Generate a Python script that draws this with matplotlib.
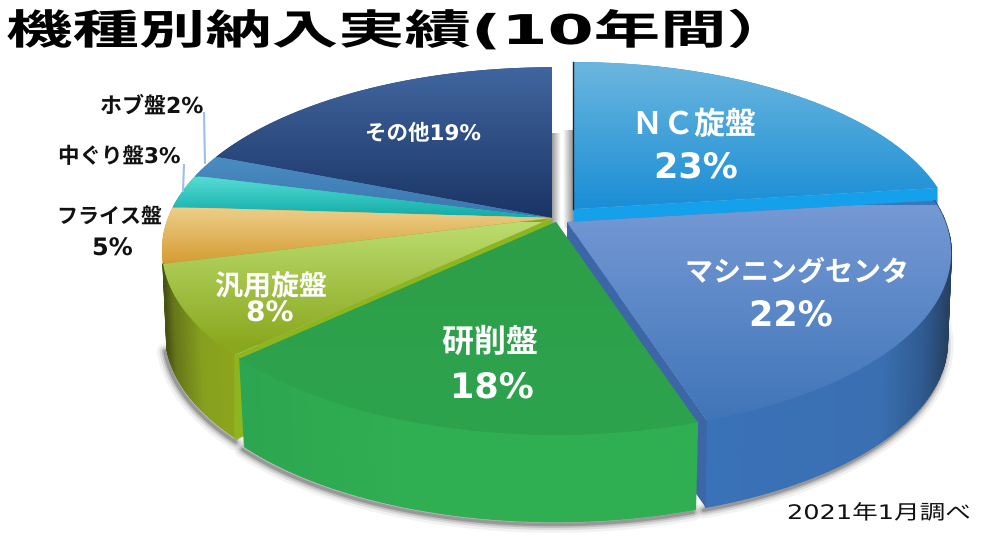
import numpy as np
import matplotlib
matplotlib.use('Agg')
import matplotlib.pyplot as plt
import matplotlib.patheffects as pe
from matplotlib.collections import PolyCollection
from matplotlib.colors import LinearSegmentedColormap, to_rgb
from matplotlib.patches import Polygon
from matplotlib.transforms import Affine2D

plt.rcParams['font.family'] = ['DejaVu Sans', 'Noto Sans CJK JP']

# data, clockwise from 12 o'clock
names = ['NC旋盤', 'マシニングセンタ', '研削盤', '汎用旋盤', 'フライス盤', '中ぐり盤', 'ホブ盤', 'その他']
values = [23, 22, 18, 8, 5, 3, 2, 19]

title = '機種別納入実績(10年間）'
note = '2021年1月調べ'

# perspective of the disc, in pixels
A, B, K = 390.0, 179.5, 0.173
DEPTH = 89

edges = np.cumsum([0] + values) * 3.6


class Stretch(pe.AbstractPathEffect):
    # the reference text is wider than the font
    def __init__(self, sx):
        super().__init__()
        self.sx = sx

    def draw_path(self, renderer, gc, tpath, affine, rgbFace=None):
        renderer.draw_path(gc, tpath, Affine2D().scale(self.sx, 1) + affine, rgbFace)


fig = plt.figure(figsize=(10, 5.52), dpi=100)
ax = fig.add_axes([0, 0, 1, 1])
ax.set_xlim(0, 1000)
ax.set_ylim(552, 0)
ax.axis('off')
ax.autoscale(False)


def arc(i, cx, cy, s, dy=0, bs=1.0, n=80):
    t = np.radians(np.linspace(edges[i], edges[i + 1], n))
    X, Y = np.sin(t), np.cos(t)
    w = 1 + K * Y
    return np.column_stack([cx + s * bs * A * X / w, cy - s * bs * B * Y / w + dy])


def grad_top(xy, c1, c2, z, y0=None, y1=None):
    patch = Polygon(xy, closed=True, fc=c2, ec='none', zorder=z)
    ax.add_patch(patch)
    x0, x1 = xy[:, 0].min(), xy[:, 0].max()
    y0 = xy[:, 1].min() if y0 is None else y0
    y1 = xy[:, 1].max() if y1 is None else y1
    cm = LinearSegmentedColormap.from_list('g', [c1, c2])
    im = ax.imshow(np.linspace(0, 1, 256)[:, None], cmap=cm, aspect='auto', zorder=z,
                   extent=(x0, x1, y1, y0), interpolation='bilinear')
    im.set_clip_path(patch)


def side(top, bottom, stops, z):
    # small quads along the rim so the shading can follow x
    xs = [p for p, _ in stops]
    rgb = np.array([to_rgb(c) for _, c in stops])
    quads, cols = [], []
    for k in range(len(top) - 1):
        quads.append([top[k], top[k + 1], bottom[k + 1], bottom[k]])
        u = (top[k, 0] + top[k + 1, 0]) / 2
        cols.append([np.interp(u, xs, rgb[:, j]) for j in range(3)])
    ax.add_collection(PolyCollection(quads, facecolors=cols, edgecolors=cols, linewidths=1.2, zorder=z))


def shadow(curve):
    for lw, a in [(12, 0.05), (8, 0.09), (5, 0.13), (2.5, 0.2)]:
        ax.plot(curve[:, 0] - 2, curve[:, 1] + 3, color='black', lw=lw, alpha=a, zorder=1,
                solid_capstyle='round')


# centre and scale of each wedge
nc = (574, 209, 0.96)
mc = (567, 222, 0.97)
gr = (556, 222, 0.98)
rest = (552, 218, 0.985)

# soft shadow in the gap behind the pulled out wedge
gap1 = LinearSegmentedColormap.from_list('g1', ['#9a9a9a', '#ffffff'])
gap2 = LinearSegmentedColormap.from_list('g2', ['#ffffff', '#8c8c8c'])
ax.imshow(np.linspace(0, 1, 64)[None, :], cmap=gap1, aspect='auto', extent=(552, 561, 228, 133), zorder=1)
ax.imshow(np.linspace(0, 1, 64)[None, :], cmap=gap2, aspect='auto', extent=(563, 574, 228, 130), zorder=1)

# NC lathe
top = arc(0, *nc)
apex = np.array([nc[0], nc[1]])
ax.add_patch(Polygon([apex, top[-1], top[-1] + [0, DEPTH], apex + [0, DEPTH]], fc='#14a0ea', ec='none', zorder=2))
grad_top(np.vstack([apex, top]), '#6cb6de', '#1a8ed6', 3)
ax.plot([apex[0] - 1, top[0, 0] - 1], [apex[1], top[0, 1]], color='#222222', lw=1, zorder=3)

# other (back)
top = arc(7, *rest)
grad_top(np.vstack([[rest[0], rest[1]], top]), '#41669f', '#193363', 4, y0=66, y1=222)

# hob
top = arc(6, *rest)
grad_top(np.vstack([[rest[0], rest[1]], top]), '#4a8cc2', '#3a74ae', 5, y0=158, y1=222)

# boring
top = arc(5, *rest)
grad_top(np.vstack([[rest[0], rest[1]], top]), '#55dcd4', '#15aeaa', 6, y0=177, y1=215)

# milling
top = arc(4, *rest)
ax.add_patch(Polygon(np.vstack([[rest[0], rest[1] + 4], top + [0, 4]]), fc='#f2aa30', ec='none', zorder=7))
grad_top(np.vstack([[rest[0], rest[1]], top]), '#ecce88', '#d59a30', 8, y0=208, y1=266)

# general lathe, rim, cut face and top
top = arc(3, *rest)
bottom = arc(3, *rest, dy=DEPTH - 4, bs=0.99)
shadow(bottom)
side(top, bottom, [(160, '#3d4610'), (172, '#66761a'), (200, '#86a01e'), (240, '#8fa51c')], 9)
apx = np.array([rest[0], rest[1]])
ax.add_patch(Polygon([apx, top[0], top[0] + [0, DEPTH - 4], apx + [0, DEPTH]], fc='#8db51f', ec='none', zorder=9))
grad_top(np.vstack([apx, top]), '#bcdc70', '#8aa81e', 10, y0=222, y1=345)

# machining center, rim, cut face and top
top = arc(1, *mc)
bottom = arc(1, *mc, dy=DEPTH, bs=0.99)
shadow(bottom)
side(top, bottom, [(700, '#3a72b8'), (880, '#3a70b2'), (925, '#2f5a90'), (950, '#26405f')], 11)
apx = np.array([mc[0], mc[1]])
ax.add_patch(Polygon([apx, top[-1], bottom[-1], apx + [0, DEPTH]], fc='#3c66a6', ec='none', zorder=11))
grad_top(np.vstack([apx, top]), '#7599d4', '#3e74b8', 12, y0=205, y1=425)

# grinder
top = arc(2, *gr)
bottom = arc(2, *gr, dy=DEPTH + 1, bs=0.985)
shadow(bottom)
side(top, bottom, [(240, '#2ca650'), (400, '#30ae52'), (700, '#30ae52')], 13)
grad_top(np.vstack([[gr[0], gr[1]], top]), '#2e9e48', '#2da34e', 14)

# leader lines
ax.plot([204, 205], [113, 163], color='#9dc0ea', lw=1.5, zorder=15)
ax.plot([184, 183], [165, 191], color='#9dc0ea', lw=1.5, zorder=15)


def label(x, y, s, px, color='white', sx=1.0, weight='bold'):
    ax.text(x, y, s, fontsize=px * 0.72, color=color, weight=weight, ha='left', va='baseline',
            zorder=20, path_effects=[Stretch(sx)])


pct = [f'{v}%' for v in values]

label(6, 44, title, 41, color='black', sx=1.62)
label(632, 134, 'ＮＣ旋盤', 31)
label(654, 178, pct[0], 35)
label(685, 281, names[1], 28)
label(749, 326, pct[1], 35)
label(442, 352, names[2], 32)
label(450, 398, pct[2], 35)
label(215, 295, names[3], 28)
label(246, 321, pct[3], 28)
label(365, 140, names[7] + pct[7], 21.5)
label(100, 113, names[6] + pct[6], 22, color='#111111')
label(58, 163, names[5] + pct[5], 21.5, color='#111111')
label(57, 223, names[4], 21, color='#111111')
label(92, 255, pct[4], 24, color='#111111')
label(787, 519, note, 20, color='#111111', sx=1.28, weight='normal')

fig.savefig('out.png', dpi=100)
